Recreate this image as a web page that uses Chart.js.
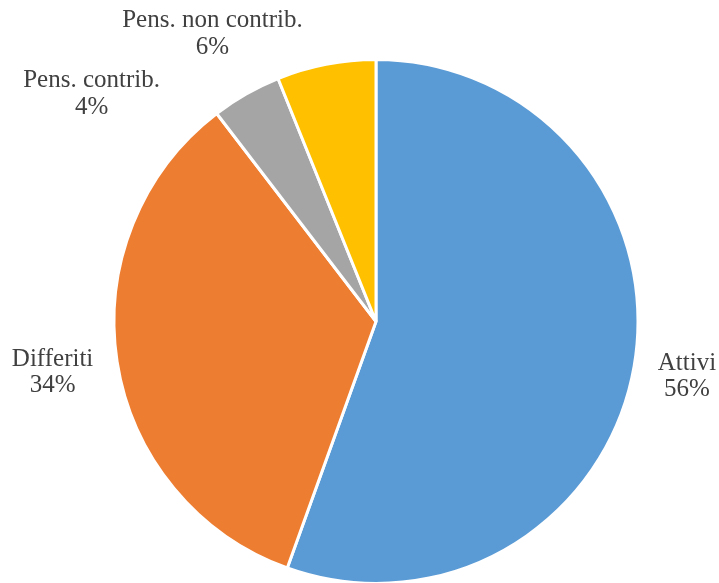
<!DOCTYPE html>
<html>
<head>
<meta charset="utf-8">
<script src="https://cdn.jsdelivr.net/npm/chart.js@4.4.0/dist/chart.umd.min.js"></script>
<style>
  html, body { margin: 0; padding: 0; background: #ffffff; overflow: hidden; }
  #wrap { width: 719px; height: 583px; position: relative; overflow: hidden; }
</style>
</head>
<body>
<div id="wrap"><canvas id="c" width="719" height="585"></canvas></div>
<script>
// Data
const categories = ["Attivi", "Differiti", "Pens. contrib.", "Pens. non contrib."];
const shares = [55.5, 34.1, 4.3, 6.1];
const sliceColors = ["#5B9BD5", "#ED7D31", "#A5A5A5", "#FFC000"];

// Label placement relative to pie centre, in units of the radius (x, y)
const labelOffsets = [[1.196, 0.237], [-1.244, 0.220], [-1.094, -0.850], [-0.629, -1.081]];

const labelPlugin = {
  id: 'outerLabels',
  afterDatasetsDraw(chart) {
    const ctx = chart.ctx;
    const meta = chart.getDatasetMeta(0);
    const total = shares.reduce((a, b) => a + b, 0);
    ctx.save();
    ctx.font = '25px "Liberation Serif", "Times New Roman", serif';
    ctx.fillStyle = '#404040';
    ctx.textAlign = 'center';
    ctx.textBaseline = 'alphabetic';
    meta.data.forEach((arc, i) => {
      const r = 260;
      const x = arc.x + labelOffsets[i][0] * r;
      const y = arc.y + labelOffsets[i][1] * r;
      const pct = Math.round(shares[i] / total * 100) + '%';
      ctx.fillText(categories[i], x, y - 13.2);
      ctx.fillText(pct, x, y + 13.2);
    });
    ctx.restore();
  }
};

new Chart(document.getElementById('c'), {
  type: 'pie',
  data: {
    labels: categories,
    datasets: [{
      data: shares,
      backgroundColor: sliceColors,
      borderColor: '#ffffff',
      borderWidth: 3,
      hoverOffset: 0,
      offset: 0
    }]
  },
  options: {
    responsive: false,
    animation: false,
    rotation: 0,
    layout: { padding: { top: 58, bottom: 0, left: 100, right: 67 } },
    plugins: {
      legend: { display: false },
      tooltip: { enabled: false }
    }
  },
  plugins: [labelPlugin]
});
</script>
</body>
</html>
